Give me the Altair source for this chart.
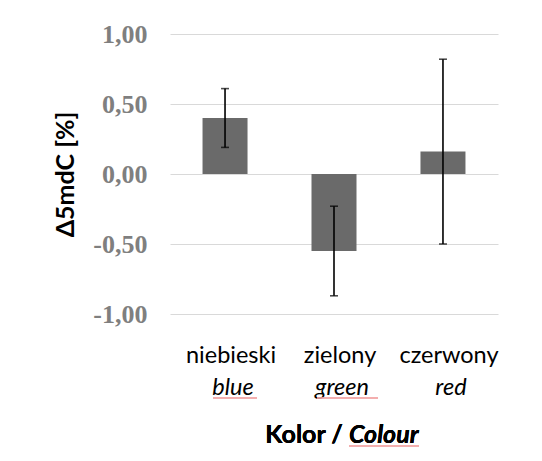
import altair as alt
import pandas as pd

categories = ["niebieski", "zielony", "czerwony"]
english = ["blue", "green", "red"]
values = [0.40, -0.55, 0.16]
err_low = [0.19, -0.87, -0.50]
err_high = [0.61, -0.23, 0.82]
y_ticks = [-1.0, -0.5, 0.0, 0.5, 1.0]

df = pd.DataFrame({"cat": categories, "en": english, "val": values,
                   "lo": err_low, "hi": err_high})

W, H = 328, 280
xs = alt.X("cat:N", sort=categories,
           scale=alt.Scale(paddingInner=0.59, paddingOuter=0.3),
           axis=alt.Axis(labels=False, ticks=False, domain=False, title=None, grid=False))
ys = alt.Y("val:Q", scale=alt.Scale(domain=[-1, 1], nice=False, zero=False),
           axis=alt.Axis(values=y_ticks, format=".2f",
                         labelExpr="replace(replace(datum.label, '.', ','), '\u2212', '-')",
                         domain=False, ticks=False, grid=True, gridColor="#d9d9d9", gridWidth=1,
                         labelFont="Liberation Serif", labelFontWeight="bold", labelFontSize=26,
                         labelColor="#7f7f7f", labelPadding=23,
                         title="Δ5mdC [%]", titleFont="Lato", titleFontWeight="bold",
                         titleFontSize=25, titleColor="#000000", titleAngle=-90,
                         titleX=-105, titleY=140, titleAlign="center", titleBaseline="middle"))

bars = alt.Chart(df).mark_bar(color="#6a6a6a", size=45).encode(x=xs, y=ys)
rule = alt.Chart(df).mark_rule(color="#000000", strokeWidth=1.6).encode(
    x=alt.X("cat:N", sort=categories), y="lo:Q", y2="hi:Q")
cap_lo = alt.Chart(df).mark_tick(color="#000000", thickness=1.6, size=8).encode(
    x=alt.X("cat:N", sort=categories), y="lo:Q")
cap_hi = alt.Chart(df).mark_tick(color="#000000", thickness=1.6, size=8).encode(
    x=alt.X("cat:N", sort=categories), y="hi:Q")

lab1 = alt.Chart(df).mark_text(font="Lato", fontSize=23.5, color="#000000", baseline="alphabetic",
                               dx=6).encode(x=alt.X("cat:N", sort=categories), y=alt.value(329),
                                            text="cat:N")
lab2 = alt.Chart(df).mark_text(font="Lato", fontSize=23.5, fontStyle="italic", color="#000000",
                               baseline="alphabetic", dx=8).encode(
    x=alt.X("cat:N", sort=categories), y=alt.value(361), text="en:N")

t1 = alt.Chart(df).mark_text(font="Lato", fontSize=25, fontWeight="bold", color="#000000",
                             align="right", baseline="alphabetic", text="Kolor /").encode(
    x=alt.value(173), y=alt.value(409))
t2 = alt.Chart(df).mark_text(font="Lato", fontSize=25, fontWeight="bold", fontStyle="italic",
                             color="#000000", align="left", baseline="alphabetic",
                             text="Colour").encode(x=alt.value(179), y=alt.value(409))

# spell-check underlines seen in the reference
u_style = dict(color="#f2a3a3", strokeWidth=1)
u1 = alt.Chart(df).mark_rule(**u_style).encode(x=alt.value(43), x2=alt.value(87), y=alt.value(364))
u2 = alt.Chart(df).mark_rule(**u_style).encode(x=alt.value(147), x2=alt.value(208), y=alt.value(364))
u3 = alt.Chart(df).mark_rule(**u_style).encode(x=alt.value(179), x2=alt.value(249), y=alt.value(412))

chart = alt.layer(bars, rule, cap_lo, cap_hi, lab1, lab2, t1, t2, u1, u2, u3).properties(
    width=W, height=H,
    autosize=alt.AutoSizeParams(type="none"),
    padding={"left": 162, "top": 26, "right": 30, "bottom": 139},
    background="#ffffff",
).configure_view(strokeWidth=0, stroke="transparent")

chart.save("out.html", embed_options={"renderer": "svg", "actions": False})
